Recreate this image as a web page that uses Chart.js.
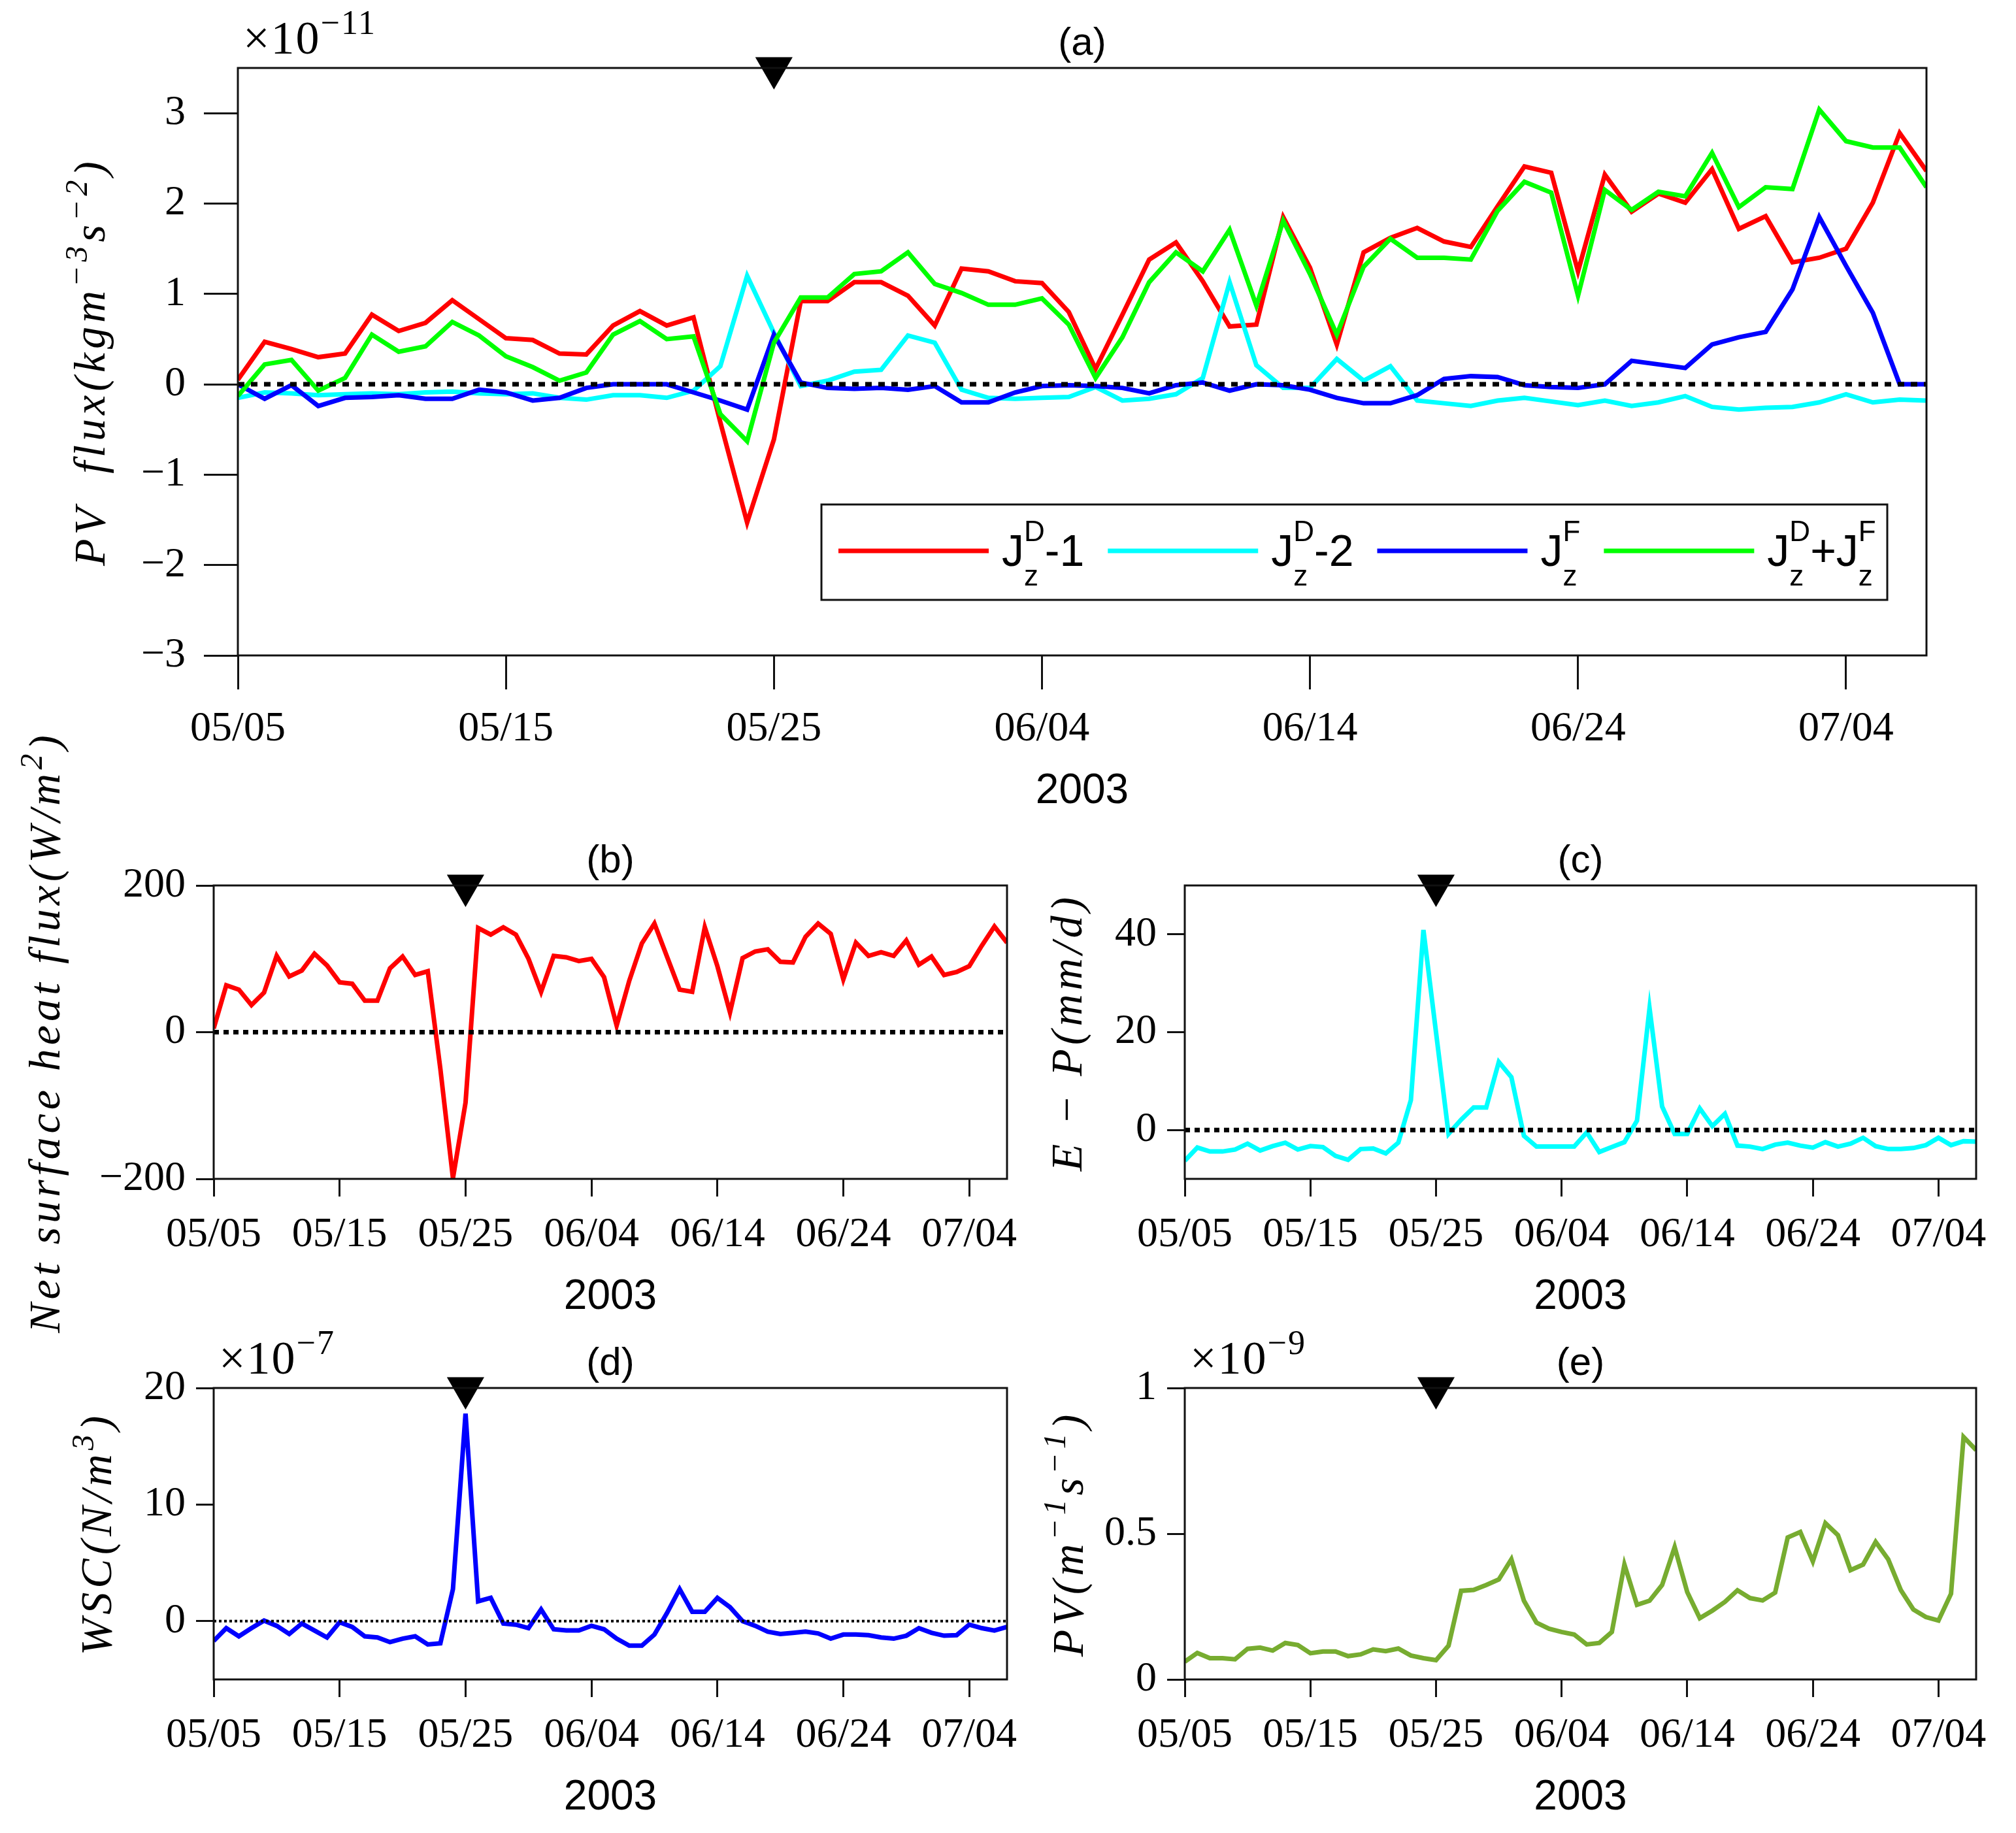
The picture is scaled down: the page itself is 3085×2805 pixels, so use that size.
<!DOCTYPE html>
<html>
<head>
<meta charset="utf-8">
<script src="https://cdn.jsdelivr.net/npm/chart.js@4.4.1/dist/chart.umd.min.js"></script>
<style>
  html, body { margin: 0; padding: 0; background: #fff; }
  body { width: 3085px; height: 2805px; position: relative; overflow: hidden; }
  canvas { position: absolute; left: 0; top: 0; }
</style>
</head>
<body>
<canvas id="pa" width="3085" height="2805"></canvas>
<canvas id="pb" width="3085" height="2805"></canvas>
<canvas id="pc" width="3085" height="2805"></canvas>
<canvas id="pd" width="3085" height="2805"></canvas>
<canvas id="pe" width="3085" height="2805"></canvas>
<script>
// PV flux budget, 05/05 - 07/07 2003 (daily)

// day offsets since 05/05
const dayIndex = Array.from({ length: 64 }, (_, i) => i);
const tickDays = [0, 10, 20, 30, 40, 50, 60];
const tickLabels = ['05/05', '05/15', '05/25', '06/04', '06/14', '06/24', '07/04'];
const markerDay = 20;

// (a) x 1e-11 kg m^-3 s^-2
const jd1 = [0.05, 0.47, 0.39, 0.30, 0.34, 0.77, 0.59, 0.68, 0.93, 0.72,
  0.51, 0.49, 0.34, 0.33, 0.65, 0.81, 0.65, 0.74, -0.42, -1.53,
  -0.61, 0.92, 0.92, 1.13, 1.13, 0.98, 0.65, 1.28, 1.25, 1.14,
  1.12, 0.80, 0.17, 0.77, 1.38, 1.57, 1.14, 0.64, 0.66, 1.85,
  1.29, 0.44, 1.46, 1.62, 1.73, 1.58, 1.52, 1.97, 2.41, 2.34,
  1.25, 2.32, 1.91, 2.11, 2.01, 2.38, 1.72, 1.86, 1.35, 1.40,
  1.50, 2.01, 2.78, 2.36];
const jd2 = [-0.15, -0.09, -0.10, -0.12, -0.11, -0.10, -0.11, -0.09, -0.08, -0.10,
  -0.11, -0.10, -0.15, -0.17, -0.12, -0.12, -0.15, -0.07, 0.20, 1.20,
  0.57, -0.02, 0.04, 0.14, 0.16, 0.54, 0.46, -0.06, -0.15, -0.16,
  -0.15, -0.14, -0.03, -0.18, -0.16, -0.11, 0.07, 1.13, 0.21, -0.04,
  -0.04, 0.28, 0.04, 0.20, -0.18, -0.21, -0.24, -0.18, -0.15, -0.19,
  -0.23, -0.18, -0.24, -0.20, -0.13, -0.25, -0.28, -0.26, -0.25, -0.20,
  -0.11, -0.20, -0.17, -0.18];
const jf = [0.00, -0.16, -0.01, -0.24, -0.15, -0.14, -0.12, -0.16, -0.16, -0.06,
  -0.09, -0.18, -0.15, -0.04, 0.00, 0.00, 0.00, -0.09, -0.18, -0.28,
  0.55, 0.02, -0.04, -0.05, -0.04, -0.06, -0.02, -0.20, -0.20, -0.09,
  -0.02, -0.01, -0.02, -0.04, -0.10, -0.01, 0.02, -0.07, 0.00, -0.01,
  -0.06, -0.15, -0.21, -0.21, -0.12, 0.06, 0.09, 0.08, -0.01, -0.03,
  -0.04, 0.00, 0.26, 0.22, 0.18, 0.44, 0.52, 0.58, 1.05, 1.85,
  1.31, 0.79, 0.00, 0.00];
const jdf = [-0.13, 0.22, 0.27, -0.07, 0.07, 0.55, 0.36, 0.42, 0.69, 0.54,
  0.31, 0.19, 0.04, 0.13, 0.55, 0.70, 0.50, 0.53, -0.33, -0.63,
  0.46, 0.96, 0.96, 1.22, 1.25, 1.46, 1.11, 1.01, 0.88, 0.88,
  0.95, 0.66, 0.07, 0.52, 1.13, 1.46, 1.25, 1.71, 0.87, 1.81,
  1.22, 0.55, 1.30, 1.61, 1.40, 1.40, 1.38, 1.92, 2.24, 2.12,
  0.98, 2.15, 1.93, 2.13, 2.08, 2.56, 1.96, 2.18, 2.16, 3.04,
  2.69, 2.62, 2.62, 2.18];

// (b) W/m^2
const heatFlux = [5, 64, 58, 37, 54, 104, 76, 84, 107, 91,
  68, 66, 43, 43, 87, 103, 78, 83, -50, -199,
  -96, 142, 133, 143, 133, 100, 55, 104, 102, 97,
  100, 75, 9, 70, 121, 148, 103, 58, 55, 143,
  90, 27, 101, 110, 113, 96, 95, 130, 148, 134,
  72, 122, 104, 109, 104, 125, 92, 103, 78, 82,
  90, 118, 144, 122];

// (c) mm/d
const evapMinusPrecip = [-6.3, -3.6, -4.4, -4.4, -4.0, -2.8, -4.2, -3.3, -2.6, -4.0,
  -3.3, -3.5, -5.3, -6.1, -3.9, -3.8, -4.8, -2.6, 6.1, 40.9,
  20.0, -0.8, 2.1, 4.6, 4.6, 13.9, 10.8, -1.2, -3.4, -3.4,
  -3.4, -3.4, -0.5, -4.5, -3.5, -2.5, 1.9, 24.9, 4.8, -0.8,
  -0.8, 4.4, 0.8, 3.3, -3.2, -3.4, -3.9, -3.0, -2.6, -3.2,
  -3.6, -2.5, -3.4, -2.8, -1.6, -3.3, -3.9, -3.9, -3.7, -3.1,
  -1.6, -3.1, -2.3, -2.4];

// (d) x 1e-7 N/m^3
const windCurl = [-1.7, -0.6, -1.3, -0.6, 0.05, -0.4, -1.1, -0.2, -0.8, -1.4,
  -0.1, -0.5, -1.3, -1.4, -1.8, -1.5, -1.3, -2.0, -1.9, 2.75,
  17.8, 1.7, 2.0, -0.2, -0.3, -0.6, 1.0, -0.7, -0.8, -0.8,
  -0.4, -0.7, -1.5, -2.1, -2.1, -1.15, 0.7, 2.75, 0.8, 0.8,
  2.0, 1.2, 0.0, -0.4, -0.9, -1.1, -1.0, -0.9, -1.05, -1.5,
  -1.15, -1.15, -1.2, -1.4, -1.5, -1.25, -0.6, -1.0, -1.25, -1.2,
  -0.3, -0.6, -0.8, -0.5];

// (e) x 1e-9 m^-1 s^-1
const pvValues = [0.061, 0.091, 0.073, 0.073, 0.069, 0.105, 0.109, 0.099, 0.125, 0.118,
  0.090, 0.096, 0.096, 0.080, 0.086, 0.103, 0.097, 0.106, 0.082, 0.073,
  0.066, 0.116, 0.304, 0.307, 0.324, 0.343, 0.412, 0.270, 0.195, 0.174,
  0.163, 0.154, 0.120, 0.125, 0.163, 0.394, 0.256, 0.270, 0.324, 0.454,
  0.300, 0.210, 0.236, 0.266, 0.306, 0.279, 0.271, 0.298, 0.487, 0.506,
  0.405, 0.536, 0.495, 0.375, 0.394, 0.472, 0.412, 0.307, 0.240, 0.214,
  0.202, 0.294, 0.832, 0.787];

const yTicksA = [-3, -2, -1, 0, 1, 2, 3];
const yTicksB = [-200, 0, 200];
const yTicksC = [0, 20, 40];
const yTicksD = [0, 10, 20];
const yTicksE = [0, 0.5, 1];

const legendLabels = [
  [{ t: 'J' }, { sup: 'D', sub: 'z' }, { t: '-1' }],
  [{ t: 'J' }, { sup: 'D', sub: 'z' }, { t: '-2' }],
  [{ t: 'J' }, { sup: 'F', sub: 'z' }],
  [{ t: 'J' }, { sup: 'D', sub: 'z' }, { t: '+J' }, { sup: 'F', sub: 'z' }]
];

const PAGE_W = 3085, PAGE_H = 2805, Y_W = 220;
const SERIF = '"Liberation Serif", "Times New Roman", serif';
const SANS = '"Liberation Sans", Arial, sans-serif';
const INK = '#111';

function drawRich(ctx, parts, o) {
  const small = Math.round(o.size * (o.scale || 0.68));
  const fontOf = s => `${o.style || 'normal'} ${s}px ${o.family}`;
  ctx.letterSpacing = (o.spacing || 0) + 'px';
  const widths = parts.map(p => {
    if (p.t !== undefined) { ctx.font = fontOf(o.size); return ctx.measureText(p.t).width; }
    ctx.font = fontOf(small);
    return Math.max(p.sup ? ctx.measureText(p.sup).width : 0, p.sub ? ctx.measureText(p.sub).width : 0);
  });
  const total = widths.reduce((a, b) => a + b, 0);
  let x = o.align === 'center' ? o.x - total / 2 : o.x;
  ctx.textAlign = 'left';
  ctx.textBaseline = 'alphabetic';
  parts.forEach((p, i) => {
    if (p.t !== undefined) {
      ctx.font = fontOf(o.size);
      ctx.fillText(p.t, x, o.y);
    } else {
      ctx.font = fontOf(small);
      if (p.sup) ctx.fillText(p.sup, x, o.y - o.size * (o.rise || 0.42));
      if (p.sub) ctx.fillText(p.sub, x, o.y + o.size * (o.drop || 0.25));
    }
    x += widths[i];
  });
  ctx.letterSpacing = '0px';
  return total;
}

function annotPlugin(p) {
  return {
    id: 'annot',
    afterDatasetsDraw(chart) {
      const { ctx, chartArea: a } = chart;
      ctx.save();
      ctx.strokeStyle = INK;
      ctx.lineWidth = 3;
      ctx.strokeRect(a.left, a.top, a.right - a.left, a.bottom - a.top);
      ctx.restore();
    },
    afterDraw(chart) {
      const { ctx, chartArea: a } = chart;
      ctx.save();
      ctx.fillStyle = '#000';
      // panel letter
      ctx.font = `60px ${SANS}`;
      ctx.textAlign = 'center';
      ctx.textBaseline = 'middle';
      ctx.fillText(p.letter, (a.left + a.right) / 2, a.top - 37);
      // exponent
      if (p.expo) {
        drawRich(ctx, [{ t: '×10' }, { sup: p.expo }], {
          x: a.left + 8, y: a.top - 22, size: 72, family: SERIF, scale: 0.72, rise: 0.42, spacing: 2
        });
      }
      // y title
      ctx.save();
      ctx.translate(p.yTitleX, (a.top + a.bottom) / 2);
      ctx.rotate(-Math.PI / 2);
      drawRich(ctx, p.yTitle, {
        x: 0, y: 68 * 0.33, size: 68, family: SERIF, style: 'italic', align: 'center', spacing: 6, scale: 0.7, rise: 0.4
      });
      ctx.restore();
      // legend
      if (p.legend) {
        const box = [1257, 772, 2888, 918];
        ctx.fillStyle = '#fff';
        ctx.fillRect(box[0], box[1], box[2] - box[0], box[3] - box[1]);
        ctx.strokeStyle = INK;
        ctx.lineWidth = 3;
        ctx.strokeRect(box[0], box[1], box[2] - box[0], box[3] - box[1]);
        let x = box[0] + 26;
        p.series.forEach((s, i) => {
          ctx.strokeStyle = s.color;
          ctx.lineWidth = 7;
          ctx.beginPath();
          ctx.moveTo(x, 843);
          ctx.lineTo(x + 230, 843);
          ctx.stroke();
          ctx.fillStyle = '#000';
          const w = drawRich(ctx, legendLabels[i], {
            x: x + 250, y: 866, size: 68, family: SANS, scale: 0.64, rise: 0.56, drop: 0.44
          });
          x += 250 + w + 36;
        });
      }
      ctx.restore();
    }
  };
}

function makePanel(p) {
  const datasets = p.series.map((s, i) => ({
    label: s.name,
    data: s.data,
    borderColor: s.color,
    backgroundColor: s.color,
    borderWidth: 7,
    pointRadius: 0,
    tension: 0,
    fill: false,
    order: p.series.length - i + 1
  }));
  if (p.zero) {
    datasets.push({
      label: 'zero',
      data: dayIndex.map(() => 0),
      borderColor: '#000',
      borderWidth: p.zero.w,
      borderDash: p.zero.dash,
      borderCapStyle: 'butt',
      pointRadius: 0,
      order: 0
    });
  }
  datasets.push({
    label: 'onset',
    data: [{ x: markerDay, y: p.yMax }],
    showLine: false,
    pointStyle: 'triangle',
    pointRotation: 180,
    pointRadius: 33,
    pointBackgroundColor: '#000',
    pointBorderWidth: 0,
    clip: false,
    order: -1
  });

  const tickFont = { family: SERIF, size: 64 };
  const gridOpts = tl => ({
    drawOnChartArea: false, drawTicks: true, tickLength: tl,
    tickWidth: 3, tickColor: INK, lineWidth: 3, color: INK
  });

  return new Chart(document.getElementById(p.id), {
    type: 'line',
    data: { labels: dayIndex, datasets },
    plugins: [annotPlugin(p)],
    options: {
      responsive: false,
      animation: false,
      devicePixelRatio: 1,
      events: [],
      layout: {
        padding: {
          left: p.box[0] - Y_W,
          top: p.box[1],
          right: PAGE_W - p.box[2],
          bottom: PAGE_H - p.box[3] - p.xH
        }
      },
      plugins: { legend: { display: false }, tooltip: { enabled: false } },
      scales: {
        x: {
          type: 'linear', min: 0, max: 63,
          afterBuildTicks: s => { s.ticks = tickDays.map(v => ({ value: v })); },
          afterFit: s => { s.height = p.xH; },
          grid: gridOpts(p.tl),
          border: { display: false },
          ticks: {
            autoSkip: false, maxRotation: 0, padding: p.xPad, color: '#000', font: tickFont,
            callback: (v, i) => tickLabels[i]
          },
          title: {
            display: true, text: '2003', color: '#000',
            font: { family: SANS, size: 64 }, padding: { top: 0, bottom: 4 }
          }
        },
        y: {
          min: p.yMin, max: p.yMax,
          afterBuildTicks: s => { s.ticks = p.yTicks.map(v => ({ value: v })); },
          afterFit: s => { s.width = Y_W; },
          grid: gridOpts(p.ytl),
          border: { display: false },
          ticks: {
            padding: p.yPad, color: '#000', font: tickFont,
            callback: v => String(v).replace('-', '\u2212')
          }
        }
      }
    }
  });
}

const panels = [
  {
    id: 'pa', letter: '(a)', box: [364, 104, 2948, 1003],
    yMin: -3, yMax: 3.5, yTicks: yTicksA, tl: 52, ytl: 52, xPad: 23, yPad: 28, xH: 251,
    zero: { w: 7, dash: [10, 10] }, expo: '\u221211', legend: true,
    yTitleX: 138,
    yTitle: [{ t: 'PV  flux(kgm' }, { sup: '\u22123' }, { t: 's' }, { sup: '\u22122' }, { t: ')' }],
    series: [
      { name: 'JzD-1', data: jd1, color: '#ff0000' },
      { name: 'JzD-2', data: jd2, color: '#00ffff' },
      { name: 'JzF', data: jf, color: '#0000ff' },
      { name: 'JzD+JzF', data: jdf, color: '#00ff00' }
    ]
  },
  {
    id: 'pb', letter: '(b)', box: [327, 1355, 1541, 1804],
    yMin: -200, yMax: 200, yTicks: yTicksB, tl: 27, ytl: 27, xPad: 21, yPad: 16, xH: 224,
    zero: { w: 7, dash: [8, 7] },
    yTitleX: 69,
    yTitle: [{ t: 'Net surface heat flux(W/m' }, { sup: '2' }, { t: ')' }],
    series: [{ name: 'heat flux', data: heatFlux, color: '#ff0000' }]
  },
  {
    id: 'pc', letter: '(c)', box: [1813, 1355, 3024, 1804],
    yMin: -10, yMax: 50, yTicks: yTicksC, tl: 27, ytl: 27, xPad: 21, yPad: 16, xH: 224,
    zero: { w: 7, dash: [8, 7] },
    yTitleX: 1633,
    yTitle: [{ t: 'E \u2212 P(mm/d)' }],
    series: [{ name: 'E-P', data: evapMinusPrecip, color: '#00ffff' }]
  },
  {
    id: 'pd', letter: '(d)', box: [327, 2124, 1541, 2570],
    yMin: -5, yMax: 20, yTicks: yTicksD, tl: 27, ytl: 27, xPad: 21, yPad: 16, xH: 224,
    zero: { w: 4, dash: [4, 4] }, expo: '\u22127',
    yTitleX: 148,
    yTitle: [{ t: 'WSC(N/m' }, { sup: '3' }, { t: ')' }],
    series: [{ name: 'WSC', data: windCurl, color: '#0000ff' }]
  },
  {
    id: 'pe', letter: '(e)', box: [1813, 2124, 3024, 2570],
    yMin: 0, yMax: 1, yTicks: yTicksE, tl: 27, ytl: 27, xPad: 21, yPad: 16, xH: 224,
    expo: '\u22129',
    yTitleX: 1635,
    yTitle: [{ t: 'PV(m' }, { sup: '\u22121' }, { t: 's' }, { sup: '\u22121' }, { t: ')' }],
    series: [{ name: 'PV', data: pvValues, color: '#77ac30' }]
  }
];

panels.forEach(makePanel);
</script>
</body>
</html>
